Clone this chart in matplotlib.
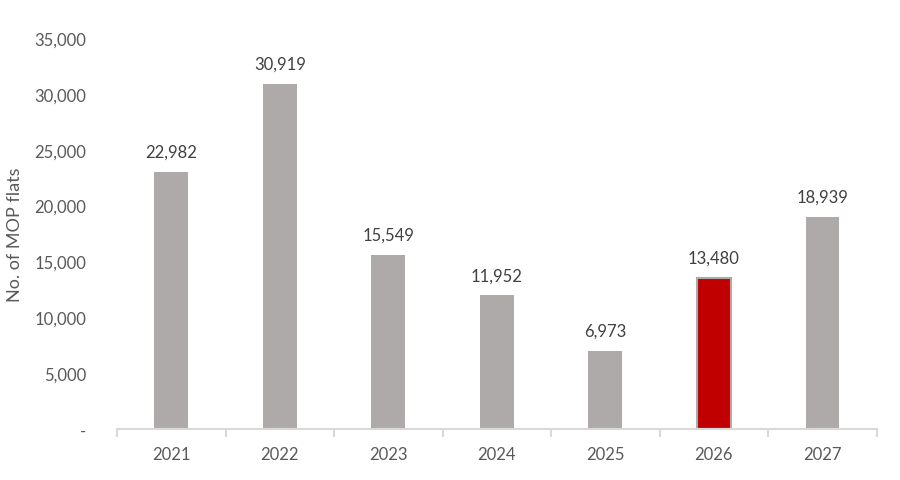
import matplotlib
matplotlib.use("Agg")
import matplotlib.pyplot as plt
from matplotlib.ticker import FuncFormatter, FixedLocator
import numpy as np

plt.rcParams['font.family'] = ['Lato', 'DejaVu Sans']

years = ["2021", "2022", "2023", "2024", "2025", "2026", "2027"]
flats = [22982, 30919, 15549, 11952, 6973, 13480, 18939]
highlight = "2026"

grey = "#AEAAAA"
red = "#C00000"
txt = "#595959"

fig = plt.figure(figsize=(9, 4.81), dpi=100)
ax = fig.add_axes([0.13, 0.106, 0.844, 0.813])

x = np.arange(len(years))
colors = [red if y == highlight else grey for y in years]
edges = [grey if y == highlight else grey for y in years]
lws = [1.5 if y == highlight else 0 for y in years]
bars = ax.bar(x, flats, width=0.31, color=colors, edgecolor=edges, linewidth=lws, zorder=2)

for xi, v in zip(x, flats):
    ax.text(xi, v + 1100, f"{v:,}", ha="center", va="bottom", fontsize=12, color="#404040")

ax.set_xlim(-0.5, len(years) - 0.5)
ax.set_ylim(0, 35000)
ax.set_yticks(np.arange(0, 35001, 5000))
ax.yaxis.set_major_formatter(FuncFormatter(lambda v, p: "-" if v == 0 else f"{int(v):,}"))
ax.set_xticks(x)
ax.set_xticklabels(years)
ax.xaxis.set_minor_locator(FixedLocator(np.arange(-0.5, len(years), 1.0)))

for s in ["top", "right", "left"]:
    ax.spines[s].set_visible(False)
ax.spines["bottom"].set_color("#D9D9D9")
ax.spines["bottom"].set_linewidth(1.5)

ax.tick_params(axis="y", length=0, labelsize=12, labelcolor=txt, pad=22)
ax.tick_params(axis="x", which="major", length=0, labelsize=12, labelcolor=txt, pad=12)
ax.tick_params(axis="x", which="minor", length=6, width=1.5, color="#D9D9D9", direction="out")

ax.set_ylabel("No. of MOP flats", fontsize=13, color=txt, labelpad=8)

fig.savefig("out.png", dpi=100)
